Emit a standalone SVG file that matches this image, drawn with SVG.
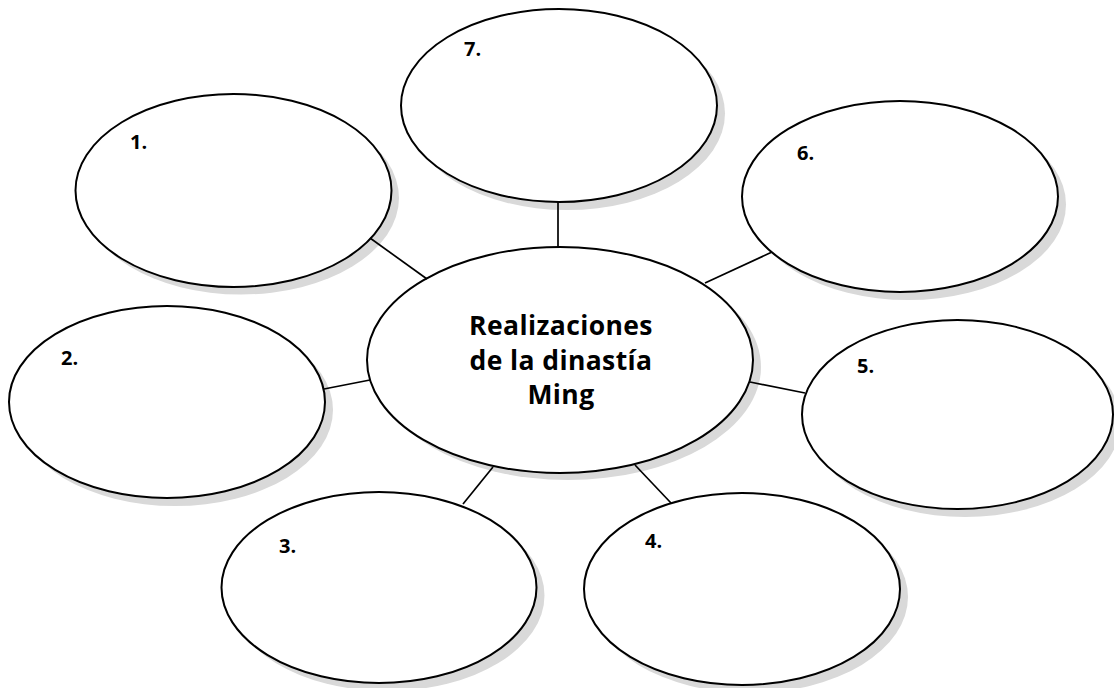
<svg xmlns="http://www.w3.org/2000/svg" width="1114" height="688" viewBox="0 0 1114 688">
<style>
.sh{fill:#d9d9d9;stroke:none}
.el{fill:#fff;stroke:#000;stroke-width:2}
.num{font-family:"Open Sans","Noto Sans",sans-serif;font-weight:bold;font-size:20px;fill:#000}
.ctr{font-family:"Open Sans","Noto Sans",sans-serif;font-weight:bold;font-size:26.5px;letter-spacing:0.4px;fill:#000;text-anchor:middle}
.cn line{stroke:#000;stroke-width:1.7}
</style>
<rect width="1114" height="688" fill="#fff"/>
<g id="node-center">
<ellipse class="sh" cx="568" cy="367" rx="193" ry="113"/>
<ellipse class="el" cx="560" cy="360" rx="193" ry="113"/>
<text class="ctr" x="561" y="335">Realizaciones</text>
<text class="ctr" x="561" y="370">de la dinastía</text>
<text class="ctr" x="561" y="404">Ming</text>
</g>
<g id="node-1">
<ellipse class="sh" cx="241" cy="198" rx="158" ry="96.5"/>
<ellipse class="el" cx="233.5" cy="190.5" rx="158" ry="96.5"/>
<text class="num" x="130" y="149">1.</text>
</g>
<g id="node-2">
<ellipse class="sh" cx="175" cy="410" rx="158" ry="96"/>
<ellipse class="el" cx="167" cy="402" rx="158" ry="96"/>
<text class="num" x="61" y="365">2.</text>
</g>
<g id="node-3">
<ellipse class="sh" cx="387" cy="595.5" rx="157.5" ry="95.5"/>
<ellipse class="el" cx="379" cy="587.5" rx="157.5" ry="95.5"/>
<text class="num" x="279" y="553">3.</text>
</g>
<g id="node-4">
<ellipse class="sh" cx="750" cy="597" rx="158" ry="96"/>
<ellipse class="el" cx="742" cy="589" rx="158" ry="96"/>
<text class="num" x="645" y="548">4.</text>
</g>
<g id="node-5">
<ellipse class="sh" cx="965" cy="422.5" rx="155.5" ry="94.5"/>
<ellipse class="el" cx="957.5" cy="414.5" rx="155.5" ry="94.5"/>
<text class="num" x="857" y="373">5.</text>
</g>
<g id="node-6">
<ellipse class="sh" cx="908" cy="204.5" rx="158" ry="95.5"/>
<ellipse class="el" cx="900" cy="196.5" rx="158" ry="95.5"/>
<text class="num" x="797" y="160">6.</text>
</g>
<g id="node-7">
<ellipse class="sh" cx="567" cy="113.5" rx="158" ry="96.5"/>
<ellipse class="el" cx="559" cy="105.5" rx="158" ry="96.5"/>
<text class="num" x="464" y="56">7.</text>
</g>
<g id="connectors" class="cn">
<line x1="370" y1="238" x2="427" y2="279"/>
<line x1="558" y1="202" x2="558" y2="247"/>
<line x1="772" y1="252" x2="705" y2="283"/>
<line x1="324" y1="389" x2="370" y2="380"/>
<line x1="750" y1="382" x2="805" y2="393"/>
<line x1="493" y1="467" x2="463" y2="504"/>
<line x1="635" y1="465" x2="671" y2="503"/>
</g>
</svg>
